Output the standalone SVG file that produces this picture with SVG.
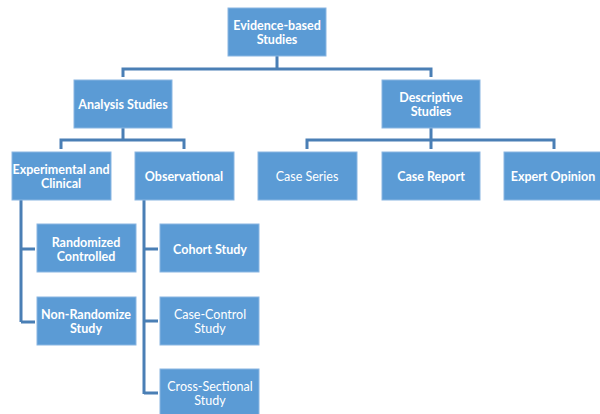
<svg xmlns="http://www.w3.org/2000/svg" width="600" height="414" viewBox="0 0 600 414">
<style>
.box{fill:#5b9bd5;stroke:#8ab6e2;stroke-width:1}
.t{font-family:Lato,"Liberation Sans",sans-serif;font-size:12.5px;fill:#fff;text-anchor:middle;dominant-baseline:central}
.b{font-weight:bold}
.c{fill:none;stroke:#4a7fb5;stroke-width:3}
</style>
<rect width="600" height="414" fill="#fff"/>
<g id="connectors">
<path class="c" d="M277 56V69M123 77V69H431V77"/>
<path class="c" d="M123 128V140M61 149V140H184V149"/>
<path class="c" d="M431 128V149M307 149V140H554V149"/>
<path class="c" d="M21 200V322M21 249H35M21 322H35"/>
<path class="c" d="M144 200V394M144 249H158M144 321H158M144 393H158"/>
</g>
<g id="evidence"><rect class="box" x="228" y="8" width="98" height="48"/><text class="t b" x="277" y="25">Evidence-based</text><text class="t b" x="277" y="39">Studies</text></g>
<g id="analysis"><rect class="box" x="74" y="80" width="98" height="48"/><text class="t b" x="123" y="104">Analysis Studies</text></g>
<g id="descriptive"><rect class="box" x="382" y="80" width="98" height="48"/><text class="t b" x="431" y="97">Descriptive</text><text class="t b" x="431" y="111">Studies</text></g>
<g id="experimental"><rect class="box" x="12" y="152" width="99" height="48"/><text class="t b" x="61" y="169">Experimental and</text><text class="t b" x="61" y="183">Clinical</text></g>
<g id="observational"><rect class="box" x="135" y="152" width="99" height="48"/><text class="t b" x="184" y="176">Observational</text></g>
<g id="caseseries"><rect class="box" x="258" y="152" width="99" height="48"/><text class="t" x="307" y="176">Case Series</text></g>
<g id="casereport"><rect class="box" x="382" y="152" width="98" height="48"/><text class="t b" x="431" y="176">Case Report</text></g>
<g id="expert"><rect class="box" x="504" y="152" width="98" height="48"/><text class="t b" x="553" y="176">Expert Opinion</text></g>
<g id="randomized"><rect class="box" x="37" y="224" width="99" height="48"/><text class="t b" x="86" y="242">Randomized</text><text class="t b" x="86" y="256">Controlled</text></g>
<g id="nonrandom"><rect class="box" x="37" y="297" width="99" height="48"/><text class="t b" x="86" y="314">Non-Randomize</text><text class="t b" x="86" y="328">Study</text></g>
<g id="cohort"><rect class="box" x="160" y="224" width="99" height="48"/><text class="t b" x="210" y="249">Cohort Study</text></g>
<g id="casecontrol"><rect class="box" x="160" y="297" width="99" height="48"/><text class="t" x="210" y="314">Case-Control</text><text class="t" x="210" y="328">Study</text></g>
<g id="crosssectional"><rect class="box" x="160" y="369" width="99" height="48"/><text class="t" x="210" y="386">Cross-Sectional</text><text class="t" x="210" y="400">Study</text></g>
</svg>
